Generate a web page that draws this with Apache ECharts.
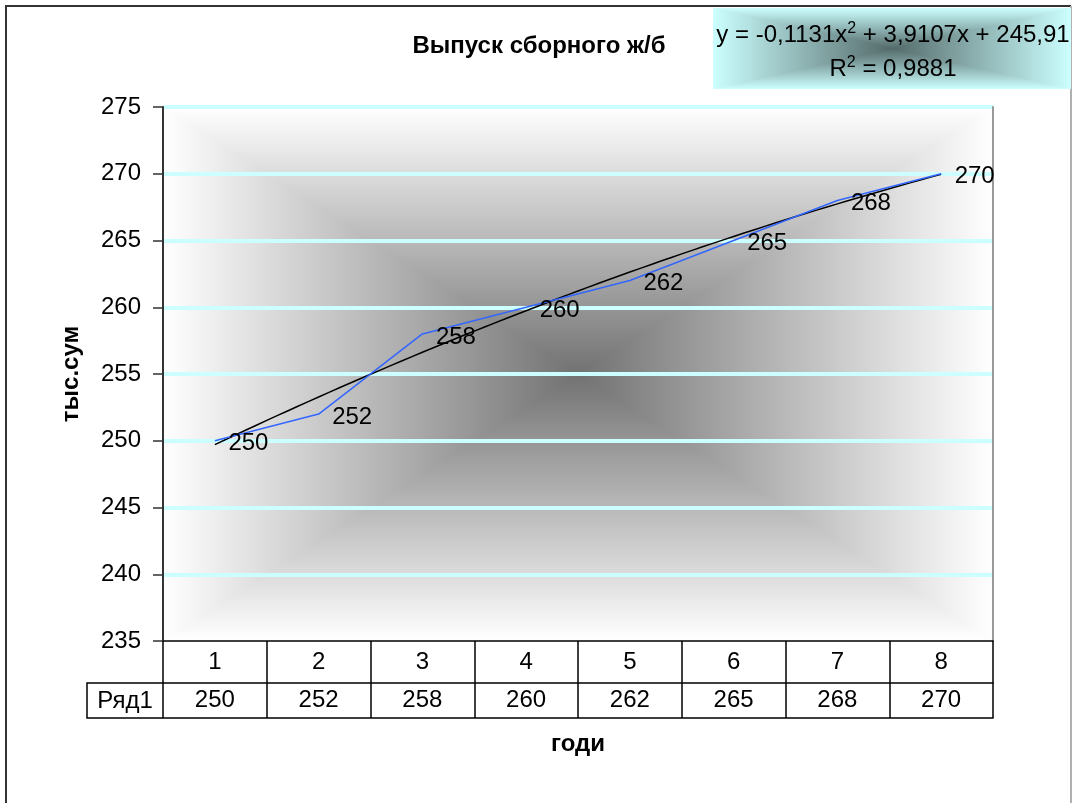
<!DOCTYPE html>
<html>
<head>
<meta charset="utf-8">
<script src="https://cdn.jsdelivr.net/npm/echarts@6/dist/echarts.min.js"></script>
<style>
  html, body { margin: 0; padding: 0; background: #ffffff; }
  #chart { width: 1073px; height: 803px; }
</style>
</head>
<body>
<div id="chart"></div>
<script>
// ---- data ----
const years = ['1', '2', '3', '4', '5', '6', '7', '8'];
const output = [250, 252, 258, 260, 262, 265, 268, 270];
const seriesName = 'Ряд1';
// polynomial trend: y = a*x^2 + b*x + c
const trendCoef = [-0.1131, 3.9107, 245.91];
const trendLabel = ['-0,1131', '3,9107', '245,91'];
const rSquared = '0,9881';
const yMin = 235, yMax = 275, yStep = 5;

const FONT = '"Liberation Sans", Arial, sans-serif';

// plot area layout
const G = { left: 163, top: 107, width: 830, height: 534 };

// trend curve sampled along the category range
const trendX = [];
for (let i = 0; i <= 70; i++) trendX.push(1 + i * 0.1);
const trendData = trendX.map(x => [x, trendCoef[0] * x * x + trendCoef[1] * x + trendCoef[2]]);

// rectangular "from centre" gradient painted into an offscreen canvas
function centreGradient(w, h, edge, mid) {
  const c = document.createElement('canvas');
  c.width = w; c.height = h;
  const ctx = c.getContext('2d');
  const img = ctx.createImageData(w, h);
  const hw = w / 2, hh = h / 2;
  for (let y = 0; y < h; y++) {
    for (let x = 0; x < w; x++) {
      const t = Math.min(1, Math.max(Math.abs(x + 0.5 - hw) / hw, Math.abs(y + 0.5 - hh) / hh));
      const k = (y * w + x) * 4;
      for (let ch = 0; ch < 3; ch++) img.data[k + ch] = Math.round(mid[ch] + (edge[ch] - mid[ch]) * t);
      img.data[k + 3] = 255;
    }
  }
  ctx.putImageData(img, 0, 0);
  return c;
}

const nSplit = (yMax - yMin) / yStep + 1;
const splitColors = [];
for (let i = 0; i < nSplit; i++) splitColors.push(i === 0 ? 'rgba(0,0,0,0)' : '#CCFFFF');

const plotBg = centreGradient(G.width, G.height, [255, 255, 255], [114, 114, 114]);
const EQ = { x: 713, y: 8, width: 358, height: 81 };
const eqBg = centreGradient(EQ.width, EQ.height, [204, 255, 255], [84, 106, 106]);

const chart = echarts.init(document.getElementById('chart'), null, { renderer: 'canvas' });

const supStyle = { font: '16px ' + FONT, fill: '#000', lineHeight: 16, verticalAlign: 'top' };
const baseStyle = { font: '24px ' + FONT, fill: '#000', lineHeight: 28 };

const graphics = [
  { type: 'image', z: -5, silent: true, style: { image: plotBg, x: G.left, y: G.top, width: G.width, height: G.height } },
  { type: 'image', z: 11, silent: true, style: { image: eqBg, x: EQ.x, y: EQ.y, width: EQ.width, height: EQ.height } },
  // chart frame
  { type: 'polyline', z: 10, silent: true, shape: { points: [[6, 803], [6, 6], [1071, 6]] }, style: { stroke: '#333', lineWidth: 2, fill: null } },
  { type: 'line', z: 10, silent: true, shape: { x1: 1071, y1: 6, x2: 1071, y2: 803 }, style: { stroke: '#b0b0b0', lineWidth: 2 } },
  // series name cell of the data table
  { type: 'polyline', z: 10, silent: true, shape: { points: [[G.left, G.top + G.height + 42], [87, G.top + G.height + 42], [87, G.top + G.height + 77], [G.left, G.top + G.height + 77]] }, style: { stroke: '#000', lineWidth: 1.5, fill: null } },
  { type: 'text', z: 10, silent: true, x: 125, y: G.top + G.height + 60, style: { text: seriesName, font: '24px ' + FONT, fill: '#000', align: 'center', verticalAlign: 'middle' } },
  // title
  { type: 'text', z: 10, silent: true, x: 539, y: 46, style: { text: 'Выпуск сборного ж/б', font: 'bold 24px ' + FONT, fill: '#000', align: 'center', verticalAlign: 'middle' } },
  // regression equation
  { type: 'text', z: 12, silent: true, x: 893, y: 35, style: {
      text: '{b|y = ' + trendLabel[0] + 'x}{s|2}{b| + ' + trendLabel[1] + 'x + ' + trendLabel[2] + '}',
      align: 'center', verticalAlign: 'middle', rich: { b: baseStyle, s: supStyle } } },
  { type: 'text', z: 12, silent: true, x: 893, y: 69, style: {
      text: '{b|R}{s|2}{b| = ' + rSquared + '}',
      align: 'center', verticalAlign: 'middle', rich: { b: baseStyle, s: supStyle } } }
];

chart.setOption({
  animation: false,
  backgroundColor: '#ffffff',
  textStyle: { fontFamily: FONT, color: '#000' },
  grid: { left: G.left, top: G.top, width: G.width, height: G.height, containLabel: false },
  xAxis: [
    { type: 'value', min: 0.5, max: 8.5, show: false },
    {
      type: 'category', data: years, position: 'bottom', offset: 0, boundaryGap: true,
      axisLine: { show: true, lineStyle: { color: '#000', width: 1.5 } },
      axisTick: { show: true, interval: 0, length: 77, lineStyle: { color: '#000', width: 1.5 } },
      axisLabel: { interval: 0, fontSize: 24, color: '#000', margin: 9, fontFamily: FONT },
      splitLine: { show: false }
    },
    {
      type: 'category', data: output.map(String), position: 'bottom', offset: 42, boundaryGap: true,
      axisLine: { show: true, lineStyle: { color: '#000', width: 1.5 } },
      axisTick: { show: false },
      axisLabel: { interval: 0, fontSize: 24, color: '#000', margin: 5, fontFamily: FONT },
      splitLine: { show: false }
    },
    {
      type: 'category', data: years.map(() => ''), position: 'bottom', offset: 77, boundaryGap: true,
      axisLine: { show: true, lineStyle: { color: '#000', width: 1.5 } },
      axisTick: { show: false },
      axisLabel: { show: false },
      splitLine: { show: false },
      name: 'годи', nameLocation: 'middle', nameGap: 14,
      nameTextStyle: { fontSize: 24, fontWeight: 'bold', color: '#000', fontFamily: FONT }
    }
  ],
  yAxis: [
    {
      type: 'value', min: yMin, max: yMax, interval: yStep, position: 'left',
      axisLine: { show: true, lineStyle: { color: '#333', width: 2 } },
      axisTick: { show: true, length: 10, lineStyle: { color: '#333', width: 1.5 } },
      axisLabel: { fontSize: 24, color: '#000', margin: 22, fontFamily: FONT },
      splitLine: { show: true, lineStyle: { color: splitColors, width: 4 } },
      name: 'тыс.сум', nameLocation: 'middle', nameGap: 80,
      nameTextStyle: { fontSize: 24, fontWeight: 'bold', color: '#000', fontFamily: FONT }
    },
    {
      type: 'value', min: yMin, max: yMax, interval: yStep, position: 'right',
      axisLine: { show: true, lineStyle: { color: '#999', width: 2 } },
      axisTick: { show: false }, axisLabel: { show: false }, splitLine: { show: false }
    }
  ],
  series: [
    {
      name: seriesName, type: 'line', xAxisIndex: 0, yAxisIndex: 0,
      data: output.map((v, i) => [i + 1, v]),
      symbol: 'circle', symbolSize: 1, showSymbol: true,
      itemStyle: { color: 'rgba(0,0,0,0)' },
      lineStyle: { color: '#3366FF', width: 1.5 },
      label: { show: true, position: 'right', distance: 13, offset: [0, 3], fontSize: 24, color: '#000', fontFamily: FONT, formatter: p => p.value[1] },
      emphasis: { disabled: true }, silent: true, z: 3
    },
    {
      name: 'trend', type: 'line', xAxisIndex: 0, yAxisIndex: 0,
      data: trendData, symbol: 'none', smooth: false,
      lineStyle: { color: '#000', width: 1.5 },
      emphasis: { disabled: true }, silent: true, z: 2
    }
  ],
  graphic: graphics
});
</script>
</body>
</html>
